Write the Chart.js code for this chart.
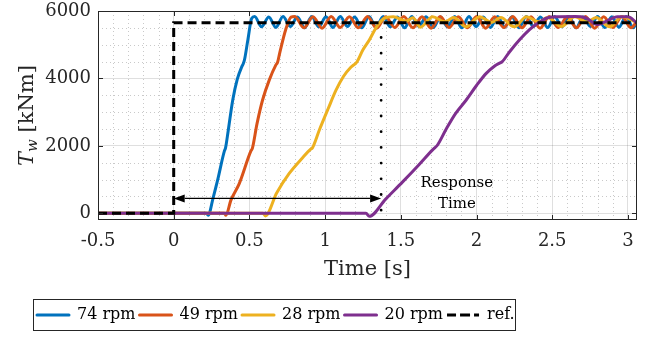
<!DOCTYPE html>
<html lang="en">
<head>
<meta charset="UTF-8">
<title>Wheel torque response</title>
<script src="https://cdn.jsdelivr.net/npm/chart.js"></script>
<style>
body { margin: 0; background: #fff; }
.chart-wrap { position: relative; width: 652px; height: 338px; }
</style>
</head>
<body>
<div class="chart-wrap"><canvas id="torqueChart"></canvas></div>
<script>
// time [s] / torque [kNm]
var t74 = [-0.5, 0.215, 0.228, 0.26, 0.29, 0.335, 0.342, 0.36, 0.39, 0.42, 0.45, 0.46, 0.468, 0.49, 0.515,
  0.535, 0.58, 0.628, 0.675, 0.722, 0.77, 0.817, 0.864, 0.912, 0.958, 1.006, 1.052, 1.10, 1.147,
  1.195, 1.242, 1.29, 1.336, 1.384, 1.43, 1.478, 1.525, 1.572, 1.62, 1.667, 1.714, 1.762, 1.808,
  1.856, 1.903, 1.95, 1.997, 2.045, 2.092, 2.14, 2.186, 2.234, 2.28, 2.328, 2.375, 2.422, 2.47,
  2.516, 2.564, 2.61, 2.658, 2.705, 2.752, 2.80, 2.846, 2.894, 2.94, 2.988, 3.035, 3.06];
var v74 = [0, 0, -60, 450, 980, 1850, 1930, 2450, 3360, 3980, 4350, 4440, 4560, 5150, 5780,
  5840, 5530, 5825, 5510, 5840, 5540, 5820, 5500, 5835, 5530, 5830, 5510, 5840, 5540,
  5820, 5500, 5835, 5520, 5840, 5530, 5825, 5500, 5840, 5540, 5830, 5510, 5820, 5530,
  5840, 5500, 5835, 5540, 5825, 5510, 5840, 5520, 5830, 5500, 5840, 5540, 5820, 5510,
  5835, 5530, 5840, 5500, 5825, 5540, 5840, 5510, 5830, 5520, 5840, 5500, 5680];

var t49 = [-0.5, 0.335, 0.345, 0.378, 0.433, 0.51, 0.52, 0.55, 0.587, 0.631, 0.675, 0.686, 0.70, 0.74, 0.775,
  0.80, 0.86, 0.92, 0.98, 1.04, 1.10, 1.16, 1.22, 1.28, 1.34, 1.40, 1.46, 1.52, 1.58, 1.64, 1.70,
  1.76, 1.82, 1.88, 1.94, 2.00, 2.06, 2.12, 2.18, 2.24, 2.30, 2.36, 2.42, 2.48, 2.54, 2.60, 2.66,
  2.72, 2.78, 2.84, 2.90, 2.96, 3.02, 3.06];
var v49 = [0, 0, -60, 390, 880, 1850, 1930, 2650, 3360, 3950, 4400, 4480, 4750, 5450, 5820,
  5840, 5500, 5830, 5490, 5840, 5510, 5830, 5500, 5840, 5490, 5830, 5510, 5840, 5500, 5830, 5490,
  5840, 5510, 5830, 5500, 5840, 5490, 5830, 5510, 5840, 5500, 5830, 5490, 5840, 5510, 5830, 5500,
  5840, 5490, 5830, 5510, 5840, 5500, 5700];

var t28 = [-0.5, 0.59, 0.605, 0.68, 0.763, 0.85, 0.905, 0.915, 0.962, 1.02, 1.072, 1.12, 1.17, 1.20, 1.212,
  1.25, 1.292, 1.34, 1.39, 1.45, 1.535, 1.58, 1.63, 1.71, 1.79, 1.85, 1.93, 2.02, 2.10, 2.16, 2.25,
  2.33, 2.41, 2.47, 2.56, 2.65, 2.73, 2.79, 2.88, 2.96, 3.06];
var v28 = [0, 0, -80, 600, 1180, 1640, 1900, 1930, 2470, 3100, 3650, 4050, 4330, 4440, 4500,
  4850, 5140, 5530, 5780, 5830, 5700, 5800, 5520, 5830, 5680, 5810, 5530, 5830, 5660, 5810, 5530,
  5830, 5680, 5810, 5540, 5830, 5670, 5810, 5530, 5830, 5660];

var t20 = [-0.5, 1.27, 1.292, 1.40, 1.512, 1.62, 1.71, 1.722, 1.74, 1.80, 1.86, 1.932, 2.0, 2.064, 2.12,
  2.155, 2.17, 2.22, 2.283, 2.35, 2.41, 2.47, 2.55, 2.65, 2.72, 2.80, 2.86, 2.93, 3.00, 3.06];
var v20 = [0, 0, -90, 420, 930, 1440, 1880, 1930, 2010, 2500, 2950, 3360, 3790, 4150, 4370,
  4460, 4500, 4800, 5140, 5450, 5650, 5800, 5830, 5840, 5800, 5600, 5700, 5830, 5830, 5640];

var tRef = [-0.5, 0, 0, 3.06];
var vRef = [0, 0, 5650, 5650];

var seriesLabels = ['74 rpm', '49 rpm', '28 rpm', '20 rpm', 'ref.'];
var xTicks = [-0.5, 0, 0.5, 1, 1.5, 2, 2.5, 3];
var xTickLabels = ['-0.5', '0', '0.5', '1', '1.5', '2', '2.5', '3'];
var yTicks = [0, 2000, 4000, 6000];
var yTickLabels = ['0', '2000', '4000', '6000'];
var yMinor = [500, 1000, 1500, 2500, 3000, 3500, 4500, 5000, 5500];
var xMinor = [];
for (var k = -5; k <= 30; k++) { if (k % 5 !== 0) xMinor.push(k / 10); }

// annotation: response time arrow + marker
var arrowY = 440, arrowX = [0, 1.37];
var markerX = 1.37, markerY = [90, 5400];
var noteX = 1.87, noteY = [900, 270], noteLines = ['Response', 'Time'];
var xTitle = 'Time [s]';
var yTitleMain = 'T', yTitleSub = 'w', yTitleUnit = ' [kNm]';

var serif = '"DejaVu Serif", serif';
var ink = '#262626';

function pts(ts, vs) {
  return ts.map(function (t, i) { return { x: t, y: vs[i] }; });
}

function line(label, ts, vs, color, order) {
  return {
    label: label, data: pts(ts, vs), borderColor: color, backgroundColor: color,
    borderWidth: 3, pointRadius: 0, cubicInterpolationMode: 'monotone',
    borderJoinStyle: 'round', order: order
  };
}

var extras = {
  id: 'extras',
  beforeDraw: function (chart) {
    var lg = chart.legend;
    if (!lg) return;
    var p = lg.options.labels.padding;
    lg.left = 37 - p;
    lg.top = 315 - p - 8;
  },
  beforeDatasetsDraw: function (chart) {
    var ctx = chart.ctx, xs = chart.scales.x, ys = chart.scales.y, a = chart.chartArea;
    ctx.save();
    ctx.strokeStyle = 'rgba(38,38,38,0.25)';
    ctx.lineWidth = 1;
    ctx.setLineDash([1, 3]);
    xMinor.forEach(function (v) {
      var px = Math.round(xs.getPixelForValue(v)) + 0.5;
      ctx.beginPath(); ctx.moveTo(px, a.top); ctx.lineTo(px, a.bottom); ctx.stroke();
    });
    yMinor.forEach(function (v) {
      var py = Math.round(ys.getPixelForValue(v)) + 0.5;
      ctx.beginPath(); ctx.moveTo(a.left, py); ctx.lineTo(a.right, py); ctx.stroke();
    });
    ctx.restore();
  },
  afterDatasetsDraw: function (chart) {
    var ctx = chart.ctx, xs = chart.scales.x, ys = chart.scales.y, a = chart.chartArea;
    ctx.save();

    // dotted marker at the response time
    var mx = xs.getPixelForValue(markerX);
    ctx.strokeStyle = '#000';
    ctx.lineWidth = 2.8;
    ctx.lineCap = 'round';
    ctx.setLineDash([0, 15.7]);
    ctx.beginPath();
    ctx.moveTo(mx, ys.getPixelForValue(markerY[0]));
    ctx.lineTo(mx, ys.getPixelForValue(markerY[1]));
    ctx.stroke();
    ctx.setLineDash([]);
    ctx.lineCap = 'butt';

    // double arrow
    var ay = ys.getPixelForValue(arrowY);
    var x0 = xs.getPixelForValue(arrowX[0]), x1 = xs.getPixelForValue(arrowX[1]);
    var hl = 11, hw = 4;
    ctx.lineWidth = 1.2;
    ctx.beginPath(); ctx.moveTo(x0 + hl, ay); ctx.lineTo(x1 - hl, ay); ctx.stroke();
    ctx.fillStyle = '#000';
    ctx.beginPath(); ctx.moveTo(x0, ay); ctx.lineTo(x0 + hl, ay - hw); ctx.lineTo(x0 + hl, ay + hw); ctx.closePath(); ctx.fill();
    ctx.beginPath(); ctx.moveTo(x1, ay); ctx.lineTo(x1 - hl, ay - hw); ctx.lineTo(x1 - hl, ay + hw); ctx.closePath(); ctx.fill();

    // note text
    ctx.font = '15px ' + serif;
    ctx.textAlign = 'center';
    ctx.textBaseline = 'middle';
    noteLines.forEach(function (s, i) {
      ctx.fillText(s, xs.getPixelForValue(noteX), ys.getPixelForValue(noteY[i]));
    });

    // axes box with inward ticks
    ctx.strokeStyle = ink;
    ctx.lineWidth = 1;
    ctx.strokeRect(a.left + 0.5, a.top + 0.5, a.right - a.left - 1, a.bottom - a.top - 1);
    ctx.beginPath();
    xTicks.forEach(function (v) {
      var px = Math.round(xs.getPixelForValue(v)) + 0.5;
      ctx.moveTo(px, a.bottom); ctx.lineTo(px, a.bottom - 5);
      ctx.moveTo(px, a.top); ctx.lineTo(px, a.top + 5);
    });
    yTicks.forEach(function (v) {
      var py = Math.round(ys.getPixelForValue(v)) + 0.5;
      ctx.moveTo(a.left, py); ctx.lineTo(a.left + 5, py);
      ctx.moveTo(a.right, py); ctx.lineTo(a.right - 5, py);
    });
    ctx.stroke();
    ctx.restore();
  },
  afterDraw: function (chart) {
    var ctx = chart.ctx, a = chart.chartArea, lg = chart.legend;
    ctx.save();
    ctx.fillStyle = ink;

    // x title
    ctx.font = '21px ' + serif;
    ctx.textAlign = 'center';
    ctx.textBaseline = 'middle';
    ctx.fillText(xTitle, (a.left + a.right) / 2, 270);

    // y title with italic subscript
    var fMain = 'italic 21px ' + serif, fSub = 'italic 15px ' + serif, fUnit = '21px ' + serif;
    ctx.font = fMain; var wT = ctx.measureText(yTitleMain).width;
    ctx.font = fSub; var wS = ctx.measureText(yTitleSub).width;
    ctx.font = fUnit; var wU = ctx.measureText(yTitleUnit).width;
    var tot = wT + wS + wU;
    ctx.translate(26, (a.top + a.bottom) / 2);
    ctx.rotate(-Math.PI / 2);
    ctx.textAlign = 'left';
    ctx.textBaseline = 'alphabetic';
    var bx = -tot / 2;
    ctx.font = fMain; ctx.fillText(yTitleMain, bx, 7);
    ctx.font = fSub; ctx.fillText(yTitleSub, bx + wT, 11);
    ctx.font = fUnit; ctx.fillText(yTitleUnit, bx + wT + wS, 7);
    ctx.setTransform(1, 0, 0, 1, 0, 0);

    // legend frame
    if (lg) {
      var p = lg.options.labels.padding;
      var left = lg.left + p - 4;
      var right = lg.left + lg.lineWidths[0] - p + 4;
      ctx.strokeStyle = ink;
      ctx.lineWidth = 1;
      ctx.strokeRect(Math.round(left) + 0.5, 299.5, Math.round(right - left), 31);
    }
    ctx.restore();
  }
};

new Chart(document.getElementById('torqueChart').getContext('2d'), {
  type: 'line',
  data: {
    datasets: [
      line(seriesLabels[0], t74, v74, '#0072BD', 4),
      line(seriesLabels[1], t49, v49, '#D95319', 3),
      line(seriesLabels[2], t28, v28, '#EDB120', 2),
      line(seriesLabels[3], t20, v20, '#7E2F8E', 1),
      {
        label: seriesLabels[4], data: pts(tRef, vRef), borderColor: '#000', backgroundColor: '#000',
        borderWidth: 3, borderDash: [9, 5], pointRadius: 0, tension: 0, order: 0
      }
    ]
  },
  options: {
    responsive: true,
    maintainAspectRatio: false,
    animation: false,
    devicePixelRatio: 1,
    layout: { padding: { top: 11, right: 15, left: 0, bottom: 0 } },
    plugins: {
      tooltip: { enabled: false },
      legend: {
        position: 'bottom',
        align: 'start',
        labels: {
          boxWidth: 32,
          boxHeight: 0,
          padding: 4,
          color: '#000',
          font: { family: serif, size: 16 },
          sort: function (a, b) { return a.datasetIndex - b.datasetIndex; }
        }
      }
    },
    scales: {
      x: {
        type: 'linear',
        min: -0.5,
        max: 3.06,
        afterBuildTicks: function (s) { s.ticks = xTicks.map(function (v) { return { value: v }; }); },
        afterFit: function (s) {
          s.height = s.chart.height - 220 - (s.chart.legend ? s.chart.legend.height : 0);
          s.paddingLeft = 0; s.paddingRight = 0;
        },
        ticks: {
          autoSkip: false, maxRotation: 0, padding: 11, color: ink,
          font: { family: serif, size: 18 },
          callback: function (v, i) { return xTickLabels[i]; }
        },
        grid: { color: 'rgba(38,38,38,0.15)', drawTicks: false },
        border: { display: false }
      },
      y: {
        min: -200,
        max: 6000,
        afterBuildTicks: function (s) { s.ticks = yTicks.map(function (v) { return { value: v }; }); },
        afterFit: function (s) { s.width = 98; s.paddingTop = 0; s.paddingBottom = 0; },
        ticks: {
          padding: 7, color: ink,
          font: { family: serif, size: 18 },
          callback: function (v, i) { return yTickLabels[i]; }
        },
        grid: { color: 'rgba(38,38,38,0.15)', drawTicks: false },
        border: { display: false }
      }
    }
  },
  plugins: [extras]
});
</script>
</body>
</html>
